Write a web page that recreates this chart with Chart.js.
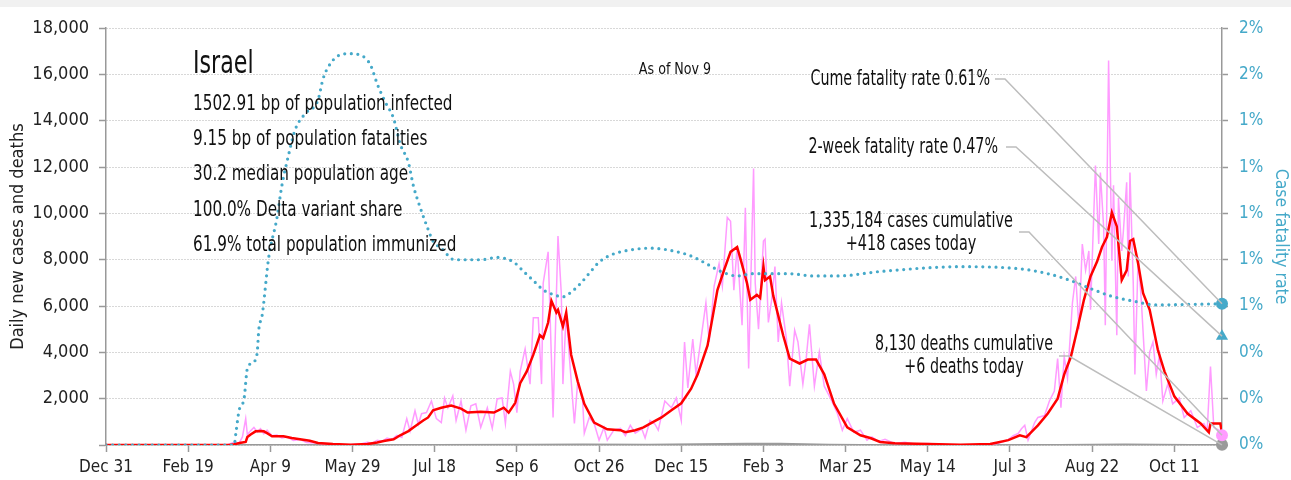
<!DOCTYPE html>
<html>
<head>
<meta charset="utf-8">
<title>Israel COVID-19</title>
<script src="https://cdn.jsdelivr.net/npm/chart.js@4.4.1/dist/chart.umd.min.js"></script>
<style>
  html, body { margin: 0; padding: 0; background: #f1f1f1; }
  #wrap { position: absolute; top: 7px; left: 0; width: 1291px; height: 473px; background: #fff; }
</style>
</head>
<body>
<div id="wrap"><canvas id="covidChart"></canvas></div>
<script>
const FONT = '"DejaVu Sans Condensed", "Liberation Sans Narrow", sans-serif';

// x = days since Dec 31 2019
const tickDays = [0, 50, 100, 150, 200, 250, 300, 350, 400, 450, 500, 550, 600, 650];
const xTickLabels = ['Dec 31', 'Feb 19', 'Apr 9', 'May 29', 'Jul 18', 'Sep 6', 'Oct 26',
    'Dec 15', 'Feb 3', 'Mar 25', 'May 14', 'Jul 3', 'Aug 22', 'Oct 11'];
const lastDay = 679;

const caseTicks = [0, 2000, 4000, 6000, 8000, 10000, 12000, 14000, 16000, 18000];
const rateTicks = [0, 0.2, 0.4, 0.6, 0.8, 1.0, 1.2, 1.4, 1.6, 1.8];
const rateTickLabels = ['0%', '0%', '0%', '1%', '1%', '1%', '1%', '1%', '2%', '2%'];

// [day, new cases]
const dailyCases = [
    [0, 0], [60, 0], [74, 10], [78, 120], [81, 80], [83, 350], [85, 1140], [86, 450], [88, 620],
    [90, 760], [92, 560], [94, 700], [96, 480], [98, 640], [101, 400], [104, 430], [107, 300],
    [110, 350], [114, 200], [118, 240], [122, 110], [127, 90], [133, 40], [140, 20], [148, 15],
    [155, 40], [159, 120], [162, 80], [165, 200], [168, 160], [171, 300], [174, 240], [177, 420],
    [180, 330], [183, 1140], [185, 600], [188, 1480], [190, 900], [192, 1350], [195, 1400],
    [198, 1900], [201, 1140], [204, 970], [206, 2030], [208, 1600], [211, 2120], [213, 1060],
    [216, 1900], [219, 640], [222, 1690], [225, 1780], [228, 760], [232, 1610], [235, 720],
    [238, 1990], [241, 2030], [243, 930], [246, 3180], [248, 2630], [250, 1400], [252, 3180],
    [255, 4150], [258, 2630], [260, 5500], [263, 5500], [265, 2630], [266, 6990], [269, 8340],
    [271, 3730], [272, 1190], [275, 9020], [277, 6560], [278, 2630], [280, 5720], [282, 3730],
    [285, 930], [287, 2750], [290, 1900], [291, 510], [294, 1190], [297, 930], [300, 210],
    [303, 760], [305, 210], [309, 640], [313, 720], [316, 400], [319, 850], [322, 510], [326, 700],
    [328, 300], [331, 1060], [334, 900], [336, 640], [340, 1900], [344, 1610], [347, 2030],
    [350, 1060], [352, 4450], [354, 2460], [357, 4570], [359, 3050], [362, 4570], [365, 6140],
    [367, 4450], [370, 6860], [373, 7830], [375, 6860], [378, 9830], [380, 9660], [382, 6690],
    [384, 8550], [387, 5170], [389, 10250], [391, 3300], [394, 11940], [395, 6990], [397, 5000],
    [400, 8810], [401, 8890], [403, 5290], [405, 6270], [407, 7710], [409, 4450], [411, 6140],
    [414, 4570], [416, 2540], [419, 4960], [421, 4450], [424, 2630], [426, 3730], [428, 5210],
    [431, 2540], [434, 4020], [437, 2540], [441, 1990], [445, 1360], [448, 640], [451, 1140],
    [455, 550], [459, 640], [463, 210], [466, 350], [470, 150], [474, 250], [480, 60], [486, 120],
    [492, 40], [500, 60], [510, 20], [520, 15], [530, 10], [538, 20], [543, 80], [546, 150],
    [549, 230], [552, 400], [555, 500], [557, 700], [559, 850], [561, 210], [565, 970],
    [567, 1190], [571, 1270], [574, 1900], [577, 2330], [579, 3730], [581, 1610], [583, 3810],
    [585, 2880], [588, 6140], [590, 7280], [592, 5000], [594, 8680], [596, 7540], [598, 8380],
    [599, 5840], [602, 12070], [604, 8680], [605, 11770], [607, 9400], [608, 5170], [610, 16600],
    [612, 7960], [613, 11220], [615, 4740], [616, 10670], [618, 8380], [619, 9230], [621, 11350],
    [622, 7280], [623, 11770], [625, 6990], [626, 3050], [628, 8130], [630, 6140], [633, 2330],
    [635, 4020], [637, 4450], [639, 3050], [641, 3900], [643, 1900], [646, 2630], [649, 1780],
    [653, 2030], [656, 1190], [660, 1480], [664, 760], [668, 930], [670, 640], [672, 3390],
    [674, 760], [677, 640], [679, 418]
];

// [day, 7-day average cases]
const avgCases = [
    [0, 0], [75, 0], [78, 30], [82, 100], [85, 130], [86, 340], [88, 450], [91, 590], [94, 600],
    [96, 590], [98, 510], [101, 380], [108, 380], [113, 300], [118, 250], [124, 180], [129, 85],
    [138, 40], [149, 15], [159, 40], [165, 110], [169, 170], [175, 250], [179, 420], [184, 600],
    [187, 760], [193, 1060], [196, 1190], [199, 1500], [204, 1610], [210, 1700], [216, 1570],
    [220, 1400], [228, 1440], [236, 1400], [242, 1610], [245, 1400], [249, 1820], [252, 2670],
    [256, 3180], [260, 3900], [264, 4740], [266, 4620], [269, 5290], [271, 6230], [274, 5720],
    [275, 5840], [278, 5120], [280, 5720], [283, 3900], [287, 2750], [291, 1780], [297, 970],
    [305, 680], [313, 640], [316, 550], [322, 640], [327, 760], [333, 1000], [338, 1190],
    [344, 1500], [350, 1800], [356, 2430], [360, 3050], [366, 4300], [372, 6690], [376, 7540],
    [380, 8340], [384, 8550], [386, 8050], [390, 6990], [392, 6270], [396, 6480], [398, 6350],
    [400, 7710], [401, 7120], [404, 7280], [406, 6440], [412, 4740], [416, 3730], [422, 3520],
    [427, 3690], [432, 3690], [437, 3050], [443, 1780], [451, 760], [459, 420], [465, 300],
    [471, 130], [480, 80], [500, 40], [520, 15], [538, 40], [549, 210], [556, 420], [560, 340],
    [567, 850], [573, 1360], [579, 2000], [583, 3050], [587, 3800], [591, 5000], [595, 6270],
    [599, 7280], [603, 7920], [606, 8550], [609, 8980], [612, 10040], [615, 9440], [618, 7120],
    [621, 7540], [623, 8810], [625, 8890], [628, 7830], [631, 6560], [635, 5840], [640, 4100],
    [644, 3180], [650, 2100], [658, 1360], [666, 930], [671, 550], [672, 930], [678, 930],
    [679, 510]
];

// [day, new deaths]
const dailyDeaths = [
    [0, 0], [85, 5], [100, 10], [130, 2], [200, 10], [260, 25], [290, 35], [330, 25], [390, 70],
    [410, 60], [440, 20], [480, 3], [560, 1], [600, 20], [620, 30], [660, 10], [679, 6]
];

// [day, cumulative case fatality rate %]
const fatalityRate = [
    [0, 0], [78, 0], [79, 0.05], [81, 0.15], [84, 0.20], [86, 0.33], [90, 0.36], [92, 0.40],
    [93, 0.50], [95, 0.56], [99, 0.81], [104, 0.98], [107, 1.12], [111, 1.25], [115, 1.36],
    [121, 1.43], [129, 1.49], [132, 1.58], [135, 1.63], [141, 1.68], [148, 1.69], [156, 1.68],
    [161, 1.64], [165, 1.56], [170, 1.48], [175, 1.41], [179, 1.30], [184, 1.22], [187, 1.12],
    [190, 1.05], [195, 0.95], [199, 0.88], [204, 0.85], [212, 0.80], [222, 0.80], [228, 0.80],
    [238, 0.81], [248, 0.79], [254, 0.75], [260, 0.71], [266, 0.67], [272, 0.65], [278, 0.64],
    [283, 0.66], [289, 0.70], [295, 0.75], [300, 0.79], [307, 0.82], [317, 0.84], [331, 0.85],
    [350, 0.83], [358, 0.81], [366, 0.78], [374, 0.75], [384, 0.73], [394, 0.74], [415, 0.74],
    [431, 0.73], [445, 0.73], [472, 0.75], [520, 0.77], [557, 0.76], [573, 0.74], [587, 0.71],
    [601, 0.67], [613, 0.64], [626, 0.62], [638, 0.605], [679, 0.61]
];

const cumeRate = 0.61;
const twoWeekRate = 0.47;
const casesCumulative = 1335184;
const casesToday = 418;
const deathsCumulative = 8130;
const deathsToday = 6;

const infoLines = [
    '1502.91 bp of population infected',
    '9.15 bp of population fatalities',
    '30.2 median population age',
    '100.0% Delta variant share',
    '61.9% total population immunized'
];

const TEAL = '#45a9c9';
const PINK = '#ff9bff';
const GRAY = '#9a9a9a';

const toXY = rows => rows.map(([x, y]) => ({ x, y }));
const fmt = n => n.toLocaleString('en-US');

// narrow text: squeeze horizontally around the anchor point
const drawText = (ctx, text, x, y, size, align, sx) => {
    ctx.save();
    ctx.font = `${size}px ${FONT}`;
    ctx.textAlign = align;
    ctx.translate(x, y);
    ctx.scale(sx, 1);
    ctx.fillText(text, 0, 0);
    ctx.restore();
};

// text block + leader lines to the end-of-series markers
const notesPlugin = {
    id: 'notes',
    afterDatasetsDraw(chart) {
        const { ctx, scales } = chart;
        const xEnd = scales.x.getPixelForValue(lastDay);

        ctx.save();
        ctx.fillStyle = '#111';
        ctx.textBaseline = 'middle';

        drawText(ctx, 'Israel', 193, 58, 32, 'left', 0.77);
        infoLines.forEach((t, i) => drawText(ctx, t, 193, 97 + i * 35.3, 22, 'left', 0.77));
        drawText(ctx, 'As of Nov 9', 675, 63, 16, 'center', 0.88);

        drawText(ctx, `Cume fatality rate ${cumeRate.toFixed(2)}%`, 990, 73, 21, 'right', 0.755);
        drawText(ctx, `2-week fatality rate ${twoWeekRate.toFixed(2)}%`, 998, 141, 21, 'right', 0.755);
        drawText(ctx, `${fmt(casesCumulative)} cases cumulative`, 911, 215, 21, 'center', 0.765);
        drawText(ctx, `+${fmt(casesToday)} cases today`, 911, 238, 21, 'center', 0.765);
        drawText(ctx, `${fmt(deathsCumulative)} deaths cumulative`, 964, 338, 21, 'center', 0.755);
        drawText(ctx, `+${fmt(deathsToday)} deaths today`, 964, 361, 21, 'center', 0.755);

        const leaders = [
            [995, 72, scales.y1.getPixelForValue(cumeRate)],
            [1006, 140, scales.y1.getPixelForValue(twoWeekRate)],
            [1019, 225, scales.y.getPixelForValue(casesToday)],
            [1059, 349, scales.y.getPixelForValue(deathsToday)]
        ];
        ctx.strokeStyle = '#bdbdbd';
        ctx.lineWidth = 1.5;
        leaders.forEach(([x0, y0, yEnd]) => {
            ctx.beginPath();
            ctx.moveTo(x0, y0);
            ctx.lineTo(x0 + 10, y0);
            ctx.lineTo(xEnd, yEnd);
            ctx.stroke();
        });
        ctx.restore();
    }
};

Chart.defaults.font.family = FONT;
Chart.defaults.font.size = 18;
Chart.defaults.color = '#222';

const lineBase = { pointRadius: 0, fill: false, tension: 0 };
const marker = { type: 'scatter', clip: false, pointBorderWidth: 0, order: 0 };

new Chart(document.getElementById('covidChart'), {
    type: 'line',
    data: {
        datasets: [
            { ...lineBase, label: 'Deaths', data: toXY(dailyDeaths), borderColor: GRAY, borderWidth: 1.5, yAxisID: 'y', order: 4 },
            { ...lineBase, label: 'New cases', data: toXY(dailyCases), borderColor: PINK, borderWidth: 1.5, yAxisID: 'y', order: 3 },
            { ...lineBase, label: '7-day average', data: toXY(avgCases), borderColor: '#ff0000', borderWidth: 2.5, yAxisID: 'y', order: 2 },
            { ...lineBase, label: 'Case fatality rate', data: toXY(fatalityRate), borderColor: TEAL, borderWidth: 3.2,
              borderDash: [0, 6.6], borderCapStyle: 'round', cubicInterpolationMode: 'monotone', yAxisID: 'y1', order: 1 },
            { ...marker, data: [{ x: lastDay, y: cumeRate }], yAxisID: 'y1', pointStyle: 'circle', pointRadius: 6, backgroundColor: TEAL },
            { ...marker, data: [{ x: lastDay, y: twoWeekRate }], yAxisID: 'y1', pointStyle: 'triangle', pointRadius: 7, backgroundColor: TEAL },
            { ...marker, data: [{ x: lastDay, y: casesToday }], yAxisID: 'y', pointStyle: 'circle', pointRadius: 6, backgroundColor: PINK },
            { ...marker, data: [{ x: lastDay, y: deathsToday }], yAxisID: 'y', pointStyle: 'circle', pointRadius: 6, backgroundColor: GRAY }
        ]
    },
    options: {
        responsive: true,
        maintainAspectRatio: false,
        animation: false,
        layout: { padding: { top: 14, left: 0, right: 0, bottom: 0 } },
        plugins: { legend: { display: false }, tooltip: { enabled: false } },
        scales: {
            x: {
                type: 'linear',
                min: 0,
                max: lastDay,
                afterFit: s => { s.height = 35; },
                afterBuildTicks: s => { s.ticks = tickDays.map(v => ({ value: v })); },
                ticks: {
                    autoSkip: false, maxRotation: 0, padding: 5, font: { size: 17 },
                    callback: v => xTickLabels[tickDays.indexOf(v)]
                },
                grid: { drawOnChartArea: false, tickLength: 7, tickColor: '#999', tickWidth: 1.5 },
                border: { color: '#999', width: 1.5 }
            },
            y: {
                position: 'left',
                min: 0,
                max: 18000,
                afterFit: s => { s.width = 106; },
                afterBuildTicks: s => { s.ticks = caseTicks.map(v => ({ value: v })); },
                ticks: { padding: 10, callback: v => (v === 0 ? '' : fmt(v)) },
                grid: { color: '#b0b0b0', lineWidth: 1, tickLength: 7, tickColor: '#999', tickWidth: 1.5 },
                border: { color: '#999', width: 1.5, dash: [1, 2] },
                title: { display: true, text: 'Daily new cases and deaths', color: '#222', font: { size: 18 }, padding: { top: 8, bottom: 0 } }
            },
            y1: {
                position: 'right',
                min: 0,
                max: 1.8,
                afterFit: s => { s.width = 69; },
                afterBuildTicks: s => { s.ticks = rateTicks.map(v => ({ value: v })); },
                ticks: { padding: 11, color: TEAL, font: { size: 17 }, callback: (v, i) => rateTickLabels[i] },
                grid: { drawOnChartArea: false, tickLength: 6, tickColor: '#999', tickWidth: 1.5 },
                border: { color: '#999', width: 1.5 },
                title: { display: true, text: 'Case fatality rate', color: TEAL, font: { size: 17.5 }, padding: { top: 0, bottom: 0 } }
            }
        }
    },
    plugins: [notesPlugin]
});
</script>
</body>
</html>
